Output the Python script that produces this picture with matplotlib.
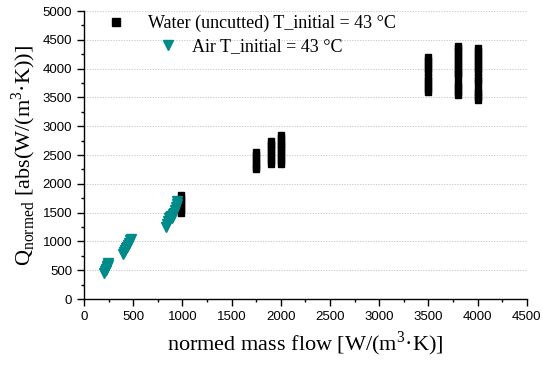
import matplotlib
matplotlib.use("Agg")
import matplotlib.pyplot as plt
from matplotlib.lines import Line2D
from matplotlib.ticker import MultipleLocator

# Water (uncutted) clusters: x values and y values
water_x = ([990] * 7 + [1750] * 7 + [1900] * 9 + [2000] * 11 +
           [3500] * 12 + [3800] * 17 + [4000] * 17)
water_y = ([1500, 1550, 1600, 1650, 1700, 1750, 1800] +
           [2250, 2300, 2350, 2400, 2450, 2500, 2550] +
           [2350, 2400, 2450, 2500, 2550, 2600, 2650, 2700, 2750] +
           [2350, 2400, 2450, 2500, 2550, 2600, 2650, 2700, 2750, 2800, 2850] +
           [3600, 3650, 3700, 3750, 3800, 3850, 3950, 4000, 4050, 4100, 4150, 4200] +
           [3550, 3600, 3650, 3700, 3750, 3850, 3900, 3950, 4000, 4050, 4100, 4150,
            4200, 4250, 4300, 4350, 4400] +
           [3450, 3500, 3550, 3600, 3650, 3750, 3800, 3850, 3950, 4000, 4050, 4100,
            4150, 4200, 4250, 4300, 4350])

# Air clusters
air_x = [205, 215, 220, 225, 230, 235, 240, 245,
         400, 410, 420, 430, 440, 450, 460, 470, 480,
         830, 840, 850, 860, 870, 880, 890, 900, 910, 920, 930, 940, 950]
air_y = [450, 480, 500, 530, 550, 580, 600, 620,
         790, 820, 850, 880, 910, 940, 980, 1020, 1050,
         1250, 1300, 1350, 1400, 1430, 1450, 1400, 1480, 1500, 1550, 1600, 1650, 1700]

water_label = "Water (uncutted) T_initial = 43 °C"
air_label = "Air T_initial = 43 °C"
x_label = r"normed mass flow [W/(m$^\mathregular{3}$·K)]"
y_label = r"Q$_\mathregular{normed}$ [abs(W/(m$^\mathregular{3}$·K))]"

teal = "#008B8B"
serif = "Liberation Serif"
sans = "Liberation Sans"

fig = plt.figure(figsize=(5.42, 3.67), dpi=100)
ax = fig.add_axes([0.155, 0.185, 0.817, 0.785])

ax.plot(water_x, water_y, linestyle="none", marker="s", markersize=5,
        color="black")
ax.plot(air_x, air_y, linestyle="none", marker="v", markersize=6.5,
        color=teal)

ax.set_xlim(0, 4500)
ax.set_ylim(0, 5000)
ax.xaxis.set_major_locator(MultipleLocator(500))
ax.xaxis.set_minor_locator(MultipleLocator(250))
ax.yaxis.set_major_locator(MultipleLocator(500))
ax.yaxis.set_minor_locator(MultipleLocator(250))

for s in ["top", "right"]:
    ax.spines[s].set_visible(False)
for s in ["left", "bottom"]:
    ax.spines[s].set_linewidth(1.0)
ax.tick_params(which="major", direction="out", length=5, width=1.0,
               labelsize=9.5)
ax.tick_params(which="minor", direction="out", length=2.5, width=1.0)
for lab in ax.get_xticklabels() + ax.get_yticklabels():
    lab.set_fontfamily(sans)

ax.yaxis.grid(True, which="major", color="#c8c8c8", linestyle=(0, (1.2, 1.5)),
              linewidth=0.7)
ax.set_axisbelow(True)

plt.rcParams["mathtext.fontset"] = "stix"
ax.set_xlabel(x_label, fontfamily=serif, fontsize=16, labelpad=5)
ax.set_ylabel(y_label, fontfamily=serif, fontsize=16, labelpad=3)

h1 = Line2D([], [], linestyle="none", marker="s", markersize=5.5, color="black")
h2 = Line2D([], [], linestyle="none", marker="v", markersize=7, color=teal)
leg1 = ax.legend([h1], [water_label], loc="upper left",
                 bbox_to_anchor=(0.026, 1.012), frameon=False,
                 prop={"family": serif, "size": 13}, handletextpad=1.03,
                 handlelength=1.5, borderaxespad=0)
ax.add_artist(leg1)
ax.legend([h2], [air_label], loc="upper left",
          bbox_to_anchor=(0.143, 0.931), frameon=False,
          prop={"family": serif, "size": 13}, handletextpad=0.58,
          handlelength=1.5, borderaxespad=0)

fig.savefig("out.png", dpi=100)
